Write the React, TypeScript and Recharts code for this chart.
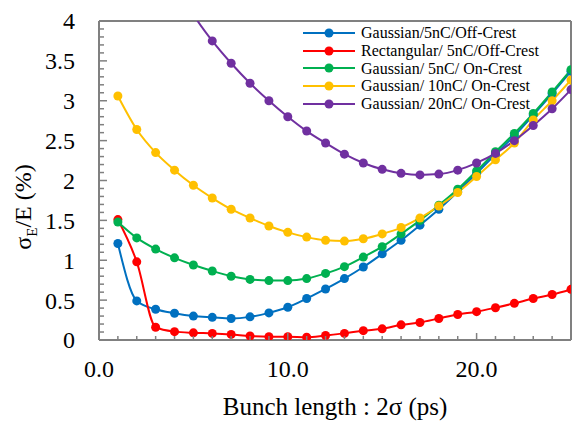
import { LineChart, Line, XAxis, YAxis, ReferenceLine } from "recharts";

const bunchLength = [1, 2, 3, 4, 5, 6, 7, 8, 9, 10, 11, 12, 13, 14, 15, 16, 17, 18, 19, 20, 21, 22, 23, 24, 25];

const gauss5Off = [1.21, 0.49, 0.385, 0.335, 0.3, 0.284, 0.27, 0.29, 0.34, 0.41, 0.52, 0.64, 0.77, 0.915, 1.08, 1.25, 1.44, 1.64, 1.86, 2.09, 2.33, 2.56, 2.82, 3.09, 3.37];
const rect5Off = [1.51, 0.98, 0.16, 0.105, 0.09, 0.083, 0.07, 0.05, 0.042, 0.042, 0.034, 0.057, 0.083, 0.117, 0.14, 0.19, 0.22, 0.27, 0.32, 0.355, 0.405, 0.46, 0.52, 0.57, 0.635];
const gauss5On = [1.48, 1.28, 1.14, 1.03, 0.94, 0.865, 0.8, 0.76, 0.745, 0.745, 0.77, 0.835, 0.92, 1.04, 1.17, 1.33, 1.5, 1.69, 1.89, 2.12, 2.36, 2.59, 2.84, 3.11, 3.39];
const gauss10On = [3.06, 2.64, 2.35, 2.13, 1.94, 1.78, 1.64, 1.53, 1.43, 1.35, 1.29, 1.25, 1.24, 1.27, 1.33, 1.41, 1.53, 1.68, 1.85, 2.05, 2.26, 2.47, 2.76, 3.0, 3.26];
const gauss20On = [null, null, null, 4.5, 4.08, 3.75, 3.47, 3.22, 3.0, 2.8, 2.62, 2.47, 2.33, 2.22, 2.14, 2.09, 2.07, 2.08, 2.13, 2.22, 2.34, 2.5, 2.69, 2.9, 3.14];

const seriesNames = [
  "Gaussian/5nC/Off-Crest",
  "Rectangular/ 5nC/Off-Crest",
  "Gaussian/ 5nC/ On-Crest",
  "Gaussian/ 10nC/ On-Crest",
  "Gaussian/ 20nC/ On-Crest",
];
const seriesKeys = ["g5off", "r5off", "g5on", "g10on", "g20on"];
const seriesColors = ["#0070C0", "#FF0000", "#00B050", "#FFC000", "#7030A0"];

const xTicks = [0, 1, 2, 3, 4, 5, 6, 7, 8, 9, 10, 11, 12, 13, 14, 15, 16, 17, 18, 19, 20, 21, 22, 23, 24, 25];
const xLabelTicks = [0, 10, 20];
const yLabelTicks = [0, 0.5, 1, 1.5, 2, 2.5, 3, 3.5, 4];
// minor ticks every 0.1
const yTicks = Array.from({ length: 41 }, (_, i) => i / 10);

const data = bunchLength.map((x, i) => ({
  x,
  g5off: gauss5Off[i],
  r5off: rect5Off[i],
  g5on: gauss5On[i],
  g10on: gauss10On[i],
  g20on: gauss20On[i],
}));

const FONT = "Liberation Serif";
const AXIS = "#808080";
const txt = { fontFamily: FONT };

function XTick(props: any) {
  const { x, y, payload } = props;
  const v = payload.value;
  const major = xLabelTicks.includes(v);
  return (
    <g>
      <line x1={x} x2={x} y1={y} y2={y - (major ? 7 : 4)} stroke={AXIS} strokeWidth={1.5} />
      {major && (
        <text x={x} y={y + 37} textAnchor="middle" fontSize={24} style={txt} fill="#000">
          {v.toFixed(1)}
        </text>
      )}
    </g>
  );
}

function YTick(props: any) {
  const { x, y, payload } = props;
  const v = payload.value;
  const major = yLabelTicks.some((t) => Math.abs(t - v) < 1e-6);
  return (
    <g>
      <line x1={x} x2={x + (major ? 8 : 5)} y1={y} y2={y} stroke={AXIS} strokeWidth={1.5} />
      {major && (
        <text x={x - 24} y={y} dy="0.35em" textAnchor="end" fontSize={24} style={txt} fill="#000">
          {String(v)}
        </text>
      )}
    </g>
  );
}

export default function App() {
  return (
    <div style={{ position: "absolute", left: 0, top: 0, width: 572, height: 421, background: "#fff" }}>
      <LineChart width={572} height={421} data={data} margin={{ top: 21, right: 1, bottom: 0, left: 0 }}>
        <XAxis
          dataKey="x"
          type="number"
          domain={[0, 25]}
          ticks={xTicks}
          interval={0}
          allowDataOverflow
          height={81}
          tickSize={0}
          tickMargin={0}
          tickLine={false}
          axisLine={{ stroke: AXIS, strokeWidth: 2 }}
          tick={<XTick />}
          label={{
            content: () => (
              <text x={335} y={415} textAnchor="middle" fontSize={25} style={txt} fill="#000">
                Bunch length : 2σ (ps)
              </text>
            ),
          }}
        />
        <YAxis
          type="number"
          domain={[0, 4]}
          ticks={yTicks}
          interval={0}
          allowDataOverflow
          width={99}
          tickSize={0}
          tickMargin={0}
          tickLine={false}
          axisLine={{ stroke: AXIS, strokeWidth: 2 }}
          tick={<YTick />}
          label={{
            content: () => (
              <text
                transform="translate(23,207) rotate(-90)"
                textAnchor="middle"
                dy="0.35em"
                fontSize={24}
                style={txt}
                fill="#000"
              >
                σ<tspan fontSize={15} dy={6}>E</tspan>
                <tspan dy={-6}>/E (%)</tspan>
              </text>
            ),
          }}
        />
        <ReferenceLine y={4} stroke={AXIS} strokeWidth={2} />
        <ReferenceLine x={25} stroke={AXIS} strokeWidth={2} />
        {seriesKeys.map((k, i) => (
          <Line
            key={k}
            dataKey={k}
            name={seriesNames[i]}
            type="monotone"
            stroke={seriesColors[i]}
            strokeWidth={2}
            dot={{ r: 4.5, fill: seriesColors[i], stroke: seriesColors[i], strokeWidth: 0 }}
            isAnimationActive={false}
          />
        ))}
      </LineChart>
      <div style={{ position: "absolute", left: 303, top: 24, fontFamily: FONT, fontSize: 16 }}>
        {seriesNames.map((n, i) => (
          <div key={n} style={{ display: "flex", alignItems: "center", height: 17.75, whiteSpace: "nowrap" }}>
            <svg width={52} height={12} style={{ flexShrink: 0 }}>
              <line x1={0} x2={52} y1={6} y2={6} stroke={seriesColors[i]} strokeWidth={2} />
              <circle cx={26} cy={6} r={4.5} fill={seriesColors[i]} />
            </svg>
            <span style={{ marginLeft: 6, lineHeight: "17.75px" }}>{n}</span>
          </div>
        ))}
      </div>
    </div>
  );
}
